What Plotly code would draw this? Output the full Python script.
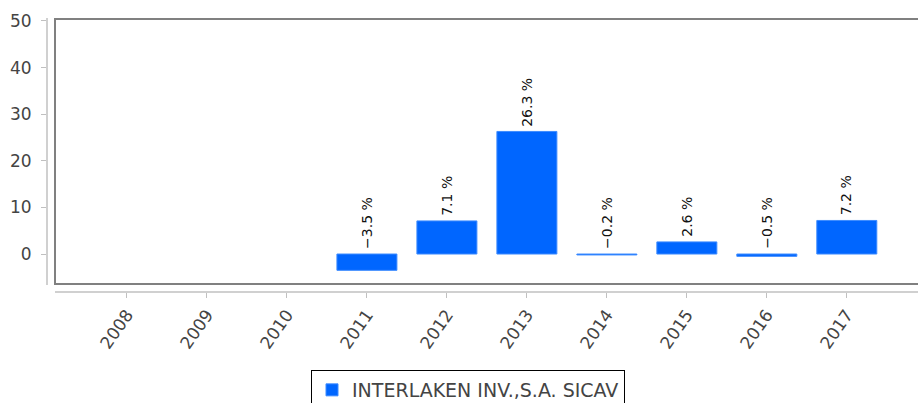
import plotly.graph_objects as go

years = ["2008", "2009", "2010", "2011", "2012", "2013", "2014", "2015", "2016", "2017"]
returns = [None, None, None, -3.5, 7.1, 26.3, -0.2, 2.6, -0.5, 7.2]
series_name = "INTERLAKEN INV.,S.A. SICAV"
y_ticks = [0, 10, 20, 30, 40, 50]

W, H = 918, 403
# plot area in page pixels: x 47..918, y 18..292
ML, MT, MR, MB = 47, 18, 0, H - 292
pw = W - ML - MR
ph = H - MT - MB

def px_x(p):
    return (p - ML) / pw

def px_y(p):
    return (H - MB - p) / ph

fig = go.Figure()
fig.add_trace(go.Bar(
    x=list(range(len(years))), y=returns, name=series_name,
    marker=dict(color="#0066ff", line=dict(color="#3d8bff", width=1)),
    width=0.75, showlegend=True,
))

for i, v in enumerate(returns):
    if v is None:
        continue
    txt = f"{v:.1f} %".replace("-", "\u2212")
    fig.add_annotation(
        x=i, y=max(v, 0), text=txt, textangle=-90, showarrow=False,
        xanchor="center", yanchor="bottom", yshift=3,
        font=dict(family="DejaVu Sans", size=14, color="#111111"),
    )

# frame (right side runs past the visible edge)
fig.add_shape(type="rect", xref="paper", yref="paper",
              x0=px_x(55), x1=px_x(940), y0=px_y(284), y1=px_y(19),
              line=dict(color="#808080", width=2), fillcolor="rgba(0,0,0,0)", layer="above")
# y axis line
fig.add_shape(type="line", xref="paper", yref="paper",
              x0=0, x1=0, y0=px_y(285), y1=px_y(18),
              line=dict(color="#c0c0c0", width=1.5))
# x axis line
fig.add_shape(type="line", xref="paper", yref="paper",
              x0=px_x(55), x1=px_x(940), y0=0, y1=0,
              line=dict(color="#c0c0c0", width=1.5))

fig.update_layout(
    width=W, height=H,
    margin=dict(l=ML, r=MR, t=MT, b=MB, autoexpand=False),
    paper_bgcolor="white", plot_bgcolor="white",
    font=dict(family="DejaVu Sans", color="#444444"),
    xaxis=dict(
        tickmode="array", tickvals=list(range(len(years))), ticktext=years,
        range=[-1.0, 9.89], tickangle=-55, showgrid=False, zeroline=False,
        showline=False, ticks="outside", ticklen=5, tickcolor="#c0c0c0",
        tickfont=dict(size=17, color="#444444"), automargin=False,
    ),
    yaxis=dict(
        tickmode="array", tickvals=y_ticks, range=[-8.15, 50.64],
        showgrid=False, zeroline=False, showline=False,
        ticks="outside", ticklen=5, tickcolor="#c0c0c0",
        tickfont=dict(size=17, color="#444444"), automargin=False,
        ticklabelstandoff=6,
    ),
    legend=dict(
        orientation="h", x=px_x(468), xanchor="center", y=px_y(370), yanchor="top",
        bordercolor="#000000", borderwidth=1,
        font=dict(size=19, color="#444444"),
    ),
    bargap=0.25,
)

fig.write_html(
    "out.html",
    config={"displayModeBar": False},
    post_script="document.body.style.margin='0';document.body.style.overflow='hidden';",
)
